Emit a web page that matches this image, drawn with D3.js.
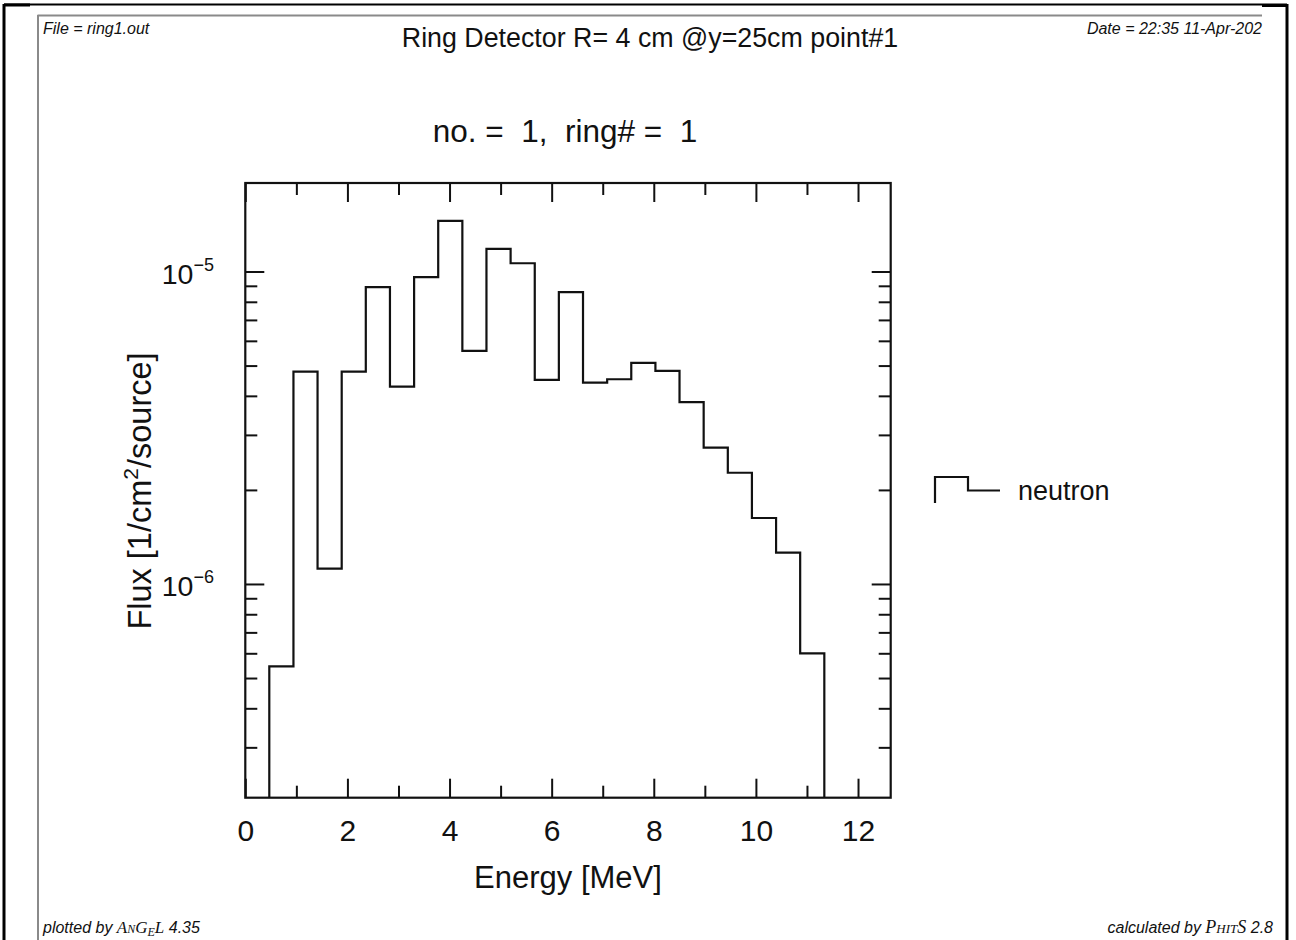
<!DOCTYPE html>
<html>
<head>
<meta charset="utf-8">
<script src="https://cdn.jsdelivr.net/npm/d3@7"></script>
<style>
  html, body { margin: 0; padding: 0; background: #fff; }
  svg { display: block; }
  text { font-family: "Liberation Sans", Arial, Helvetica, sans-serif; fill: #111; white-space: pre; }
</style>
</head>
<body>
<svg id="chart" width="1296" height="940"></svg>
<script>
// Energy bin edges [MeV] of the ring-detector tally
const energyEdges = [0.470, 0.943, 1.415, 1.888, 2.360, 2.833, 3.306, 3.778,
                     4.251, 4.723, 5.196, 5.669, 6.141, 6.614, 7.087, 7.559,
                     8.032, 8.504, 8.977, 9.450, 9.922, 10.395, 10.867, 11.340];
// Neutron flux per bin [1/cm^2/source]
const neutronFlux = [5.45e-7, 4.78e-6, 1.12e-6, 4.78e-6, 8.91e-6, 4.28e-6, 9.59e-6, 1.452e-5,
                     5.57e-6, 1.181e-5, 1.063e-5, 4.50e-6, 8.59e-6, 4.41e-6, 4.52e-6, 5.10e-6,
                     4.81e-6, 3.82e-6, 2.73e-6, 2.27e-6, 1.626e-6, 1.259e-6, 6.00e-7];
const xTickValues = [0, 2, 4, 6, 8, 10, 12];
const xMinorValues = [1, 3, 5, 7, 9, 11];
const yDecades = [1e-6, 1e-5];
const yDecadeLabels = ["\u22126", "\u22125"];
const xDomain = [0, 12.64];
const yDomain = [2.07e-7, 1.92e-5];

const titleText = "Ring Detector R= 4 cm @y=25cm point#1";
const subtitleText = "no. =  1,  ring# =  1";
const fileText = "File = ring1.out";
const dateText = "Date = 22:35 11-Apr-202";
const legendLabel = "neutron";

const svg = d3.select("#chart");

// ---- page frame ----
const frame = svg.append("g");
frame.append("line").attr("x1", 4).attr("x2", 1287).attr("y1", 4.5).attr("y2", 4.5)
  .attr("stroke", "#000").attr("stroke-width", 2);
frame.append("line").attr("x1", 4).attr("x2", 30).attr("y1", 5).attr("y2", 5)
  .attr("stroke", "#000").attr("stroke-width", 3);
frame.append("line").attr("x1", 1262).attr("x2", 1287).attr("y1", 5.5).attr("y2", 5.5)
  .attr("stroke", "#000").attr("stroke-width", 3);
frame.append("line").attr("x1", 4).attr("x2", 4).attr("y1", 4).attr("y2", 940)
  .attr("stroke", "#000").attr("stroke-width", 3);
frame.append("line").attr("x1", 1287).attr("x2", 1287).attr("y1", 4).attr("y2", 940)
  .attr("stroke", "#000").attr("stroke-width", 3);
frame.append("line").attr("x1", 37.5).attr("x2", 1262).attr("y1", 15.5).attr("y2", 15.5)
  .attr("stroke", "#8a8a8a").attr("stroke-width", 2);
frame.append("line").attr("x1", 38).attr("x2", 38).attr("y1", 15).attr("y2", 940)
  .attr("stroke", "#8a8a8a").attr("stroke-width", 2);

// ---- header / footer ----
svg.append("text").attr("x", 43).attr("y", 34).attr("font-size", 16)
  .attr("font-style", "italic").attr("fill", "#333").text(fileText);
svg.append("text").attr("x", 1262).attr("y", 34).attr("font-size", 16)
  .attr("font-style", "italic").attr("text-anchor", "end").attr("fill", "#333").text(dateText);
svg.append("text").attr("x", 650).attr("y", 47).attr("font-size", 26.8)
  .attr("text-anchor", "middle").text(titleText);

const footL = svg.append("text").attr("x", 43).attr("y", 933).attr("font-size", 16)
  .attr("font-style", "italic").attr("fill", "#333");
footL.append("tspan").text("plotted by ");
footL.append("tspan").attr("font-family", "Liberation Serif, serif").attr("font-size", 17).text("A");
footL.append("tspan").attr("font-family", "Liberation Serif, serif").attr("font-size", 12).text("N");
footL.append("tspan").attr("font-family", "Liberation Serif, serif").attr("font-size", 17).text("G");
footL.append("tspan").attr("font-family", "Liberation Serif, serif").attr("font-size", 12).attr("dy", 3).text("E");
footL.append("tspan").attr("font-family", "Liberation Serif, serif").attr("font-size", 17).attr("dy", -3).text("L");
footL.append("tspan").text(" 4.35");

const footR = svg.append("text").attr("x", 1273).attr("y", 933).attr("font-size", 16)
  .attr("font-style", "italic").attr("text-anchor", "end").attr("fill", "#333");
footR.append("tspan").text("calculated by ");
footR.append("tspan").attr("font-family", "Liberation Serif, serif").attr("font-size", 18).text("P");
footR.append("tspan").attr("font-family", "Liberation Serif, serif").attr("font-size", 13).text("HIT");
footR.append("tspan").attr("font-family", "Liberation Serif, serif").attr("font-size", 18).text("S");
footR.append("tspan").text(" 2.8");

// ---- plot ----
const plot = { left: 245.3, right: 890.7, top: 183, bottom: 797.7 };
const x = d3.scaleLinear().domain(xDomain).range([plot.left, plot.right]);
const y = d3.scaleLog().domain(yDomain).range([plot.bottom, plot.top]);

svg.append("text").attr("x", 565).attr("y", 142).attr("font-size", 31.5)
  .attr("text-anchor", "middle").text(subtitleText);

svg.append("defs").append("clipPath").attr("id", "plotClip").append("rect")
  .attr("x", plot.left).attr("y", plot.top)
  .attr("width", plot.right - plot.left).attr("height", plot.bottom - plot.top);

// histogram as a step outline
const stepPoints = [[energyEdges[0], yDomain[0]]];
neutronFlux.forEach((v, i) => {
  stepPoints.push([energyEdges[i], v]);
  stepPoints.push([energyEdges[i + 1], v]);
});
stepPoints.push([energyEdges[energyEdges.length - 1], yDomain[0]]);
const line = d3.line().x(d => x(d[0])).y(d => y(d[1]));
svg.append("path").attr("clip-path", "url(#plotClip)")
  .attr("d", line(stepPoints)).attr("fill", "none")
  .attr("stroke", "#111").attr("stroke-width", 2.2).attr("stroke-linejoin", "miter");

// axes with inward ticks on all four sides
function styleAxis(g) {
  g.select(".domain").remove();
  g.selectAll(".tick line").attr("stroke", "#111").attr("stroke-width", 2);
}
const yMinor = y.ticks().filter(v => !yDecades.some(d => Math.abs(v / d - 1) < 1e-6));

svg.append("g").attr("transform", `translate(0,${plot.bottom})`)
  .call(d3.axisBottom(x).tickValues(xTickValues).tickSize(-19).tickPadding(22)
    .tickFormat(d3.format("d")))
  .call(styleAxis)
  .call(g => g.selectAll(".tick text").attr("font-size", 30).attr("fill", "#111")
    .attr("font-family", "Liberation Sans, Arial, sans-serif"));
svg.append("g").attr("transform", `translate(0,${plot.bottom})`)
  .call(d3.axisBottom(x).tickValues(xMinorValues).tickSize(-12).tickFormat(""))
  .call(styleAxis);
svg.append("g").attr("transform", `translate(0,${plot.top})`)
  .call(d3.axisTop(x).tickValues(xTickValues).tickSize(-19).tickFormat(""))
  .call(styleAxis);
svg.append("g").attr("transform", `translate(0,${plot.top})`)
  .call(d3.axisTop(x).tickValues(xMinorValues).tickSize(-12).tickFormat(""))
  .call(styleAxis);

svg.append("g").attr("transform", `translate(${plot.left},0)`)
  .call(d3.axisLeft(y).tickValues(yDecades).tickSize(-19).tickFormat(""))
  .call(styleAxis);
svg.append("g").attr("transform", `translate(${plot.left},0)`)
  .call(d3.axisLeft(y).tickValues(yMinor).tickSize(-12).tickFormat(""))
  .call(styleAxis);
svg.append("g").attr("transform", `translate(${plot.right},0)`)
  .call(d3.axisRight(y).tickValues(yDecades).tickSize(-19).tickFormat(""))
  .call(styleAxis);
svg.append("g").attr("transform", `translate(${plot.right},0)`)
  .call(d3.axisRight(y).tickValues(yMinor).tickSize(-12).tickFormat(""))
  .call(styleAxis);

// decade labels 10^n
yDecades.forEach((v, i) => {
  const t = svg.append("text").attr("x", 214).attr("y", y(v) + 12)
    .attr("text-anchor", "end").attr("font-size", 28.5);
  t.append("tspan").text("10");
  t.append("tspan").attr("font-size", 18).attr("dy", -13).text(yDecadeLabels[i]);
});

// frame
svg.append("rect").attr("x", plot.left).attr("y", plot.top)
  .attr("width", plot.right - plot.left).attr("height", plot.bottom - plot.top)
  .attr("fill", "none").attr("stroke", "#111").attr("stroke-width", 2.2);

// axis titles
svg.append("text").attr("x", (plot.left + plot.right) / 2).attr("y", 888)
  .attr("font-size", 31).attr("text-anchor", "middle").text("Energy [MeV]");
const yl = svg.append("text").attr("transform", "translate(151,491) rotate(-90)")
  .attr("font-size", 32.5).attr("text-anchor", "middle");
yl.append("tspan").text("Flux [1/cm");
yl.append("tspan").attr("font-size", 21).attr("dy", -13).text("2");
yl.append("tspan").attr("dy", 13).text("/source]");

// legend
const leg = svg.append("g");
leg.append("path")
  .attr("d", d3.line()([[935, 503], [935, 477], [968, 477], [968, 490.5], [1000, 490.5]]))
  .attr("fill", "none").attr("stroke", "#111").attr("stroke-width", 2.2);
leg.append("text").attr("x", 1018).attr("y", 500).attr("font-size", 27).text(legendLabel);
</script>
</body>
</html>
